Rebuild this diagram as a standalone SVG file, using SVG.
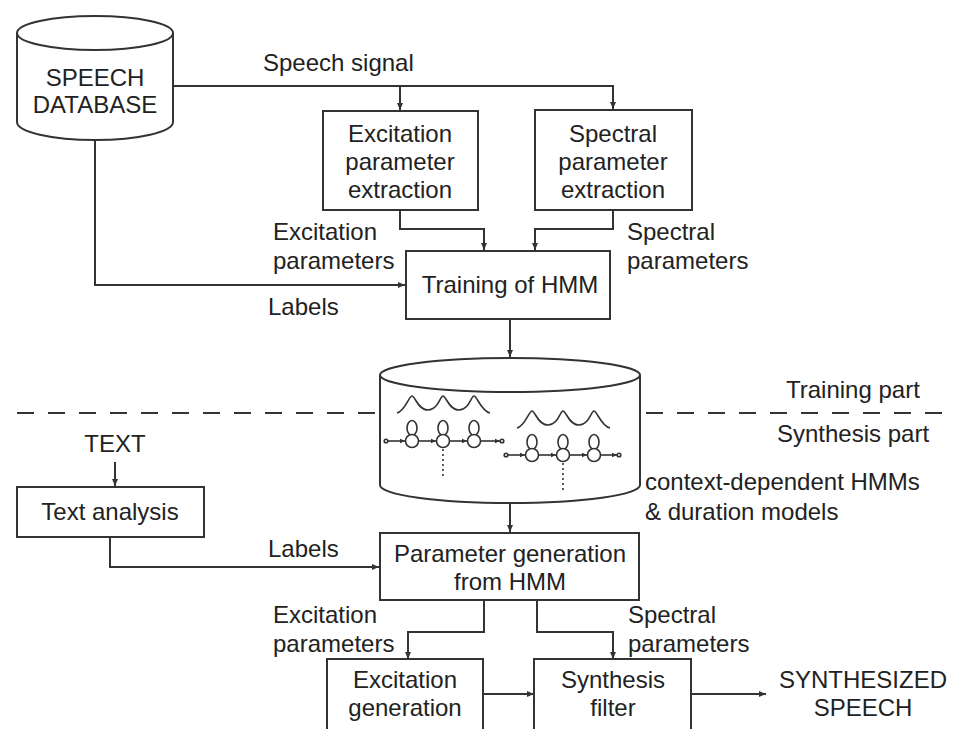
<svg xmlns="http://www.w3.org/2000/svg" width="957" height="729" viewBox="0 0 957 729">
<defs>
<style>
text{font-family:"Liberation Sans",Arial,sans-serif;font-size:24px;fill:#222}
.c{text-anchor:middle}
.box{fill:#fff;stroke:#333;stroke-width:2}
.ln{fill:none;stroke:#333;stroke-width:2}
.th{fill:none;stroke:#333;stroke-width:1.6}
.st{fill:#fff;stroke:#333;stroke-width:1.6}
.dot{fill:none;stroke:#333;stroke-width:1.6;stroke-dasharray:2 3}
</style>
<marker id="ah" markerUnits="userSpaceOnUse" markerWidth="8" markerHeight="8" refX="7" refY="4" orient="auto">
<path d="M0,1 L7,4 L0,7 Z" fill="#333"/>
</marker>
<marker id="sa" markerUnits="userSpaceOnUse" markerWidth="6" markerHeight="6" refX="5" refY="3" orient="auto">
<path d="M0,0.8 L5,3 L0,5.2 Z" fill="#333"/>
</marker>
</defs>
<rect width="957" height="729" fill="#fff"/>

<g id="connectors">
<path class="ln" d="M173,86 H613 V109" marker-end="url(#ah)"/>
<path class="ln" d="M400,86 V110" marker-end="url(#ah)"/>
<path class="ln" d="M400,210 V229 H484 V250" marker-end="url(#ah)"/>
<path class="ln" d="M613,210 V229 H535 V250" marker-end="url(#ah)"/>
<path class="ln" d="M95,140 V285 H405" marker-end="url(#ah)"/>
<path class="ln" d="M510,319 V357" marker-end="url(#ah)"/>
<path class="ln" d="M115,462 V486" marker-end="url(#ah)"/>
<path class="ln" d="M110,537 V567 H379" marker-end="url(#ah)"/>
<path class="ln" d="M510,503 V532" marker-end="url(#ah)"/>
<path class="ln" d="M484,600 V632 H408 V659" marker-end="url(#ah)"/>
<path class="ln" d="M537,600 V632 H613 V659" marker-end="url(#ah)"/>
<path class="ln" d="M483,694 H534" marker-end="url(#ah)"/>
<path class="ln" d="M691,694 H766" marker-end="url(#ah)"/>
<path fill="none" stroke="#333" stroke-width="2" stroke-dasharray="17 14" d="M17,413 H378"/>
<path fill="none" stroke="#333" stroke-width="2" stroke-dasharray="17 14" d="M646,413 H945"/>
</g>

<g id="speech-database">
<path class="box" d="M17,33 V122 A78,18 0 0 0 173,122 V33"/>
<ellipse class="box" cx="95" cy="33" rx="78" ry="17"/>
<text class="c" x="95" y="86">SPEECH</text>
<text class="c" x="95" y="113">DATABASE</text>
</g>
<text x="263" y="71">Speech signal</text>

<g id="excitation-extraction">
<rect class="box" x="323" y="111" width="155" height="99"/>
<text class="c" x="400" y="142">Excitation</text>
<text class="c" x="400" y="170">parameter</text>
<text class="c" x="400" y="198">extraction</text>
</g>
<g id="spectral-extraction">
<rect class="box" x="535" y="110" width="157" height="100"/>
<text class="c" x="613" y="142">Spectral</text>
<text class="c" x="613" y="170">parameter</text>
<text class="c" x="613" y="198">extraction</text>
</g>
<text x="273" y="240">Excitation</text>
<text x="273" y="269">parameters</text>
<text x="268" y="315">Labels</text>
<text x="627" y="240">Spectral</text>
<text x="627" y="269">parameters</text>

<g id="training">
<rect class="box" x="406" y="251" width="204" height="68"/>
<text class="c" x="510" y="293">Training of HMM</text>
</g>

<g id="hmm-models">
<path class="box" d="M380,375 V485 A130,18 0 0 0 640,485 V375"/>
<ellipse class="box" cx="510" cy="375" rx="130" ry="17"/>
<path class="th" d="M397,413 C405,411 409,396 412,396 C415,396 418,410 428,410 C438,410 440,396 443,396 C446,396 449,410 459,410 C469,410 471,396 474,396 C477,396 481,411 490,413"/>
<path class="th" d="M517,428 C525,426 529,411 532,411 C535,411 538,425 548,425 C558,425 560,411 563,411 C566,411 569,425 579,425 C589,425 591,411 594,411 C597,411 601,426 610,428"/>
<path class="th" d="M387,441 H405" marker-end="url(#sa)"/>
<path class="th" d="M418,441 H436" marker-end="url(#sa)"/>
<path class="th" d="M449,441 H467" marker-end="url(#sa)"/>
<path class="th" d="M480,441 H500" marker-end="url(#sa)"/>
<circle class="st" cx="386" cy="441" r="1.8"/>
<circle class="st" cx="502" cy="441" r="1.8"/>
<ellipse class="th" cx="412" cy="428" rx="5" ry="7.5"/>
<ellipse class="th" cx="443" cy="428" rx="5" ry="7.5"/>
<ellipse class="th" cx="474" cy="428" rx="5" ry="7.5"/>
<circle class="st" cx="412" cy="441" r="6.5"/>
<circle class="st" cx="443" cy="441" r="6.5"/>
<circle class="st" cx="474" cy="441" r="6.5"/>
<path class="dot" d="M443,449 V478"/>
<path class="th" d="M507,455 H525" marker-end="url(#sa)"/>
<path class="th" d="M539,455 H556" marker-end="url(#sa)"/>
<path class="th" d="M570,455 H587" marker-end="url(#sa)"/>
<path class="th" d="M601,455 H617" marker-end="url(#sa)"/>
<circle class="st" cx="506" cy="455" r="1.8"/>
<circle class="st" cx="619" cy="455" r="1.8"/>
<ellipse class="th" cx="532" cy="442" rx="5" ry="7.5"/>
<ellipse class="th" cx="563" cy="442" rx="5" ry="7.5"/>
<ellipse class="th" cx="594" cy="442" rx="5" ry="7.5"/>
<circle class="st" cx="532" cy="455" r="6.5"/>
<circle class="st" cx="563" cy="455" r="6.5"/>
<circle class="st" cx="594" cy="455" r="6.5"/>
<path class="dot" d="M563,463 V492"/>
</g>
<text x="786" y="398">Training part</text>
<text x="777" y="442">Synthesis part</text>
<text x="645" y="490">context-dependent HMMs</text>
<text x="645" y="520">&amp; duration models</text>

<text class="c" x="115" y="452">TEXT</text>
<g id="text-analysis">
<rect class="box" x="17" y="487" width="187" height="50"/>
<text class="c" x="110" y="520">Text analysis</text>
</g>
<text x="268" y="557">Labels</text>

<g id="parameter-generation">
<rect class="box" x="380" y="533" width="259" height="67"/>
<text class="c" x="510" y="562">Parameter generation</text>
<text class="c" x="510" y="590">from HMM</text>
</g>
<text x="273" y="623">Excitation</text>
<text x="273" y="652">parameters</text>
<text x="628" y="623">Spectral</text>
<text x="628" y="652">parameters</text>

<g id="excitation-generation">
<rect class="box" x="327" y="659" width="156" height="80"/>
<text class="c" x="405" y="688">Excitation</text>
<text class="c" x="405" y="716">generation</text>
</g>
<g id="synthesis-filter">
<rect class="box" x="534" y="659" width="157" height="80"/>
<text class="c" x="613" y="688">Synthesis</text>
<text class="c" x="613" y="716">filter</text>
</g>
<text class="c" x="863" y="688">SYNTHESIZED</text>
<text class="c" x="863" y="716">SPEECH</text>
</svg>
